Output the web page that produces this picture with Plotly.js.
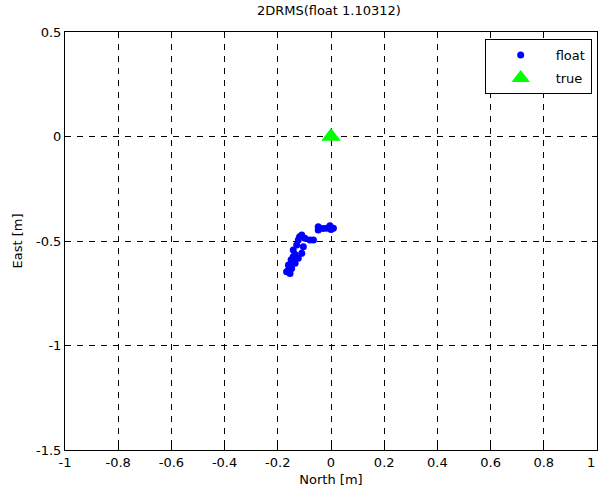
<!DOCTYPE html>
<html>
<head>
<meta charset="utf-8">
<script src="https://cdn.plot.ly/plotly-3.0.1.min.js"></script>
<style>html,body{margin:0;padding:0;background:#fff;}#chart{width:598px;height:496px;}</style>
</head>
<body>
<div id="chart"></div>
<script>
const floatNorth = [-0.048, -0.048, -0.004, 0.009, -0.016, 0.0, -0.030,
  -0.110, -0.079, -0.066, -0.098, -0.123, -0.129, -0.104, -0.142, -0.110,
  -0.123, -0.142, -0.148, -0.135, -0.160, -0.160, -0.154, -0.167, -0.148,
  -0.118, -0.135, -0.150];
const floatEast = [-0.432, -0.447, -0.427, -0.439, -0.439, -0.445, -0.440,
  -0.471, -0.495, -0.495, -0.487, -0.495, -0.519, -0.527, -0.543, -0.559,
  -0.583, -0.575, -0.599, -0.607, -0.615, -0.639, -0.655, -0.647, -0.631,
  -0.480, -0.565, -0.590];
const trueNorth = [0];
const trueEast = [0];
const xTicks = [-1, -0.8, -0.6, -0.4, -0.2, 0, 0.2, 0.4, 0.6, 0.8, 1];
const yTicks = [-1.5, -1, -0.5, 0, 0.5];

const font = {family: 'DejaVu Sans, sans-serif', size: 13, color: '#000'};

const traces = [
  {x: floatNorth, y: floatEast, mode: 'markers', type: 'scatter', name: 'float',
   legendgroup: 'a',
   marker: {color: '#0000ff', size: 7, line: {width: 0}}},
  {x: trueNorth, y: trueEast, mode: 'markers', type: 'scatter', name: 'true',
   legendgroup: 'b',
   marker: {color: '#00ff00', size: 17, symbol: 'triangle-up', line: {width: 0}}}
];

const axisCommon = {
  showline: true, linecolor: '#000', linewidth: 1, mirror: 'ticks',
  ticks: 'inside', ticklen: 5, tickcolor: '#000', tickwidth: 1,
  showgrid: true, gridcolor: '#000', gridwidth: 1, griddash: '6px,6px',
  zeroline: false, tickfont: font
};

const layout = {
  width: 598, height: 496,
  margin: {l: 65, r: 1, t: 32, b: 46},
  paper_bgcolor: '#fff', plot_bgcolor: '#fff',
  font: font,
  title: {text: '2DRMS(float 1.10312)', font: font, x: 0.55, xanchor: 'center', y: 0.988, yanchor: 'top'},
  xaxis: Object.assign({}, axisCommon, {
    range: [-1, 1], tickvals: xTicks, ticktext: xTicks.map(String),
    title: {text: 'North [m]', font: font, standoff: 6}
  }),
  yaxis: Object.assign({}, axisCommon, {
    range: [-1.5, 0.5], tickvals: yTicks, ticktext: yTicks.map(String),
    title: {text: 'East [m]', font: font, standoff: 10}
  }),
  annotations: [
    {x: 1, y: 0, xref: 'x', yref: 'paper', text: '1', showarrow: false,
     xanchor: 'right', yanchor: 'top', yshift: -3, font: font}
  ],
  showlegend: true,
  legend: {x: 0.99, y: 0.983, xanchor: 'right', yanchor: 'top',
    bordercolor: '#000', borderwidth: 1, bgcolor: '#fff', font: font,
    traceorder: 'grouped', tracegroupgap: 3, itemwidth: 60}
};

Plotly.newPlot('chart', traces, layout, {displayModeBar: false, staticPlot: true});
</script>
</body>
</html>
